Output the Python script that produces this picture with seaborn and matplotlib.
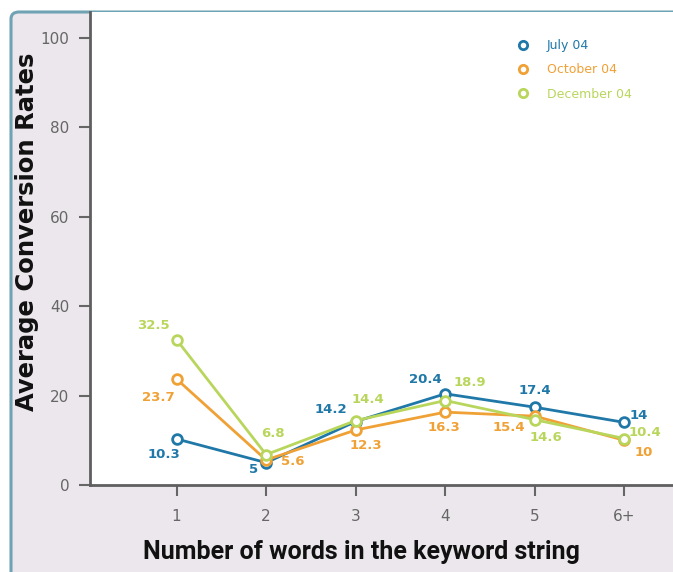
import matplotlib
matplotlib.use("Agg")
import matplotlib.pyplot as plt
from matplotlib.patches import FancyBboxPatch
from matplotlib.lines import Line2D
import seaborn as sns
import pandas as pd

# Average conversion rate by number of words in the keyword string
word_counts = ["1", "2", "3", "4", "5", "6+"]
july_04 = [10.3, 5, 14.2, 20.4, 17.4, 14]
october_04 = [23.7, 5.6, 12.3, 16.3, 15.4, 10]
december_04 = [32.5, 6.8, 14.4, 18.9, 14.6, 10.4]
series_names = ["July 04", "October 04", "December 04"]
series_colors = ["#1f78a8", "#f0a136", "#b9d65c"]

# label offsets (points) for each value, per series
label_offsets = {
    "July 04": [(-9, -11), (-9, -5), (-18, 9), (-14, 10), (0, 12), (10, 5)],
    "October 04": [(-13, -13), (19, -1), (7, -11), (-1, -11), (-19, -8), (14, -9)],
    "December 04": [(-17, 10), (5, 15), (9, 15), (18, 13), (8, -13), (15, 4)],
}

values = [july_04, october_04, december_04]
pos = list(range(1, len(word_counts) + 1))
df = pd.DataFrame({
    "pos": pos * 3,
    "rate": july_04 + october_04 + december_04,
    "series": [s for s in series_names for _ in word_counts],
})

sns.set_theme(style="white")
plt.rcParams["font.family"] = ["DejaVu Sans"]

fig = plt.figure(figsize=(6.73, 5.72), dpi=100, facecolor="white")
W, H = 673, 572

# rounded grey panel behind the chart
panel = FancyBboxPatch((11 / W, -0.05), 1.1, (H - 12) / H + 0.05,
                       boxstyle="round,pad=0,rounding_size=0.012",
                       transform=fig.transFigure, facecolor="#ebe7ec",
                       edgecolor="#6fa2b2", linewidth=2.2, zorder=-1)
fig.patches.append(panel)

ax = fig.add_axes([90 / W, (H - 485) / H, (W - 90) / W + 0.01, (485 - 12) / H])
ax.set_facecolor("white")

sns.lineplot(data=df, x="pos", y="rate", hue="series", hue_order=series_names,
             palette=series_colors, marker="o", markersize=7,
             markerfacecolor="white", markeredgewidth=2, linewidth=2,
             legend=False, ax=ax, zorder=3)
for ln, c in zip(ax.lines, series_colors):
    ln.set_markeredgecolor(c)

for name, vals, color in zip(series_names, values, series_colors):
    for x, v, off in zip(pos, vals, label_offsets[name]):
        ax.annotate(f"{v:g}", xy=(x, v), xytext=off, textcoords="offset points",
                    ha="center", va="center", fontsize=9.5, fontweight="bold",
                    color=color, zorder=4)

ax.set_xlim(1 - 86 / 89, 6 + 55 / 89)
ax.set_ylim(0, 105.8)
ax.set_xticks(pos)
ax.set_xticklabels(word_counts)
ax.set_yticks([0, 20, 40, 60, 80, 100])

for side in ["top", "right"]:
    ax.spines[side].set_visible(False)
for side in ["left", "bottom"]:
    ax.spines[side].set_color("#5f5f5f")
    ax.spines[side].set_linewidth(2)

ax.tick_params(axis="y", direction="out", length=8, width=1.5, color="#666666",
               pad=7, labelsize=11, labelcolor="#666666", left=True)
ax.tick_params(axis="x", direction="out", length=8, width=1.5, color="#666666",
               pad=9, labelsize=11, labelcolor="#666666", bottom=True)

ax.set_xlabel("Number of words in the keyword string", fontsize=18,
              fontweight="bold", family=["Roboto", "DejaVu Sans"],
              color="#111111")
ax.set_ylabel("Average Conversion Rates", fontsize=17.5,
              fontweight="bold", family=["DejaVu Sans"], color="#111111")
ax.xaxis.set_label_coords((358 - 90) / 583, (485 - 552) / 473)
ax.yaxis.set_label_coords((28 - 90) / 583, (485 - 232) / 473)
ax.xaxis.label.set_va("center")
ax.yaxis.label.set_va("center")

handles = [Line2D([], [], linestyle="none", marker="o", markersize=6,
                  markerfacecolor="white", markeredgewidth=2, markeredgecolor=c)
           for c in series_colors]
leg = ax.legend(handles, series_names, loc="upper left",
                bbox_to_anchor=((511 - 90) / 583, (485 - 39) / 473),
                frameon=False, fontsize=9, handlelength=1.2, handletextpad=1.3,
                labelspacing=0.9, borderpad=0, borderaxespad=0)
for txt, c in zip(leg.get_texts(), series_colors):
    txt.set_color(c)

fig.savefig("out.png", dpi=100, facecolor=fig.get_facecolor())
